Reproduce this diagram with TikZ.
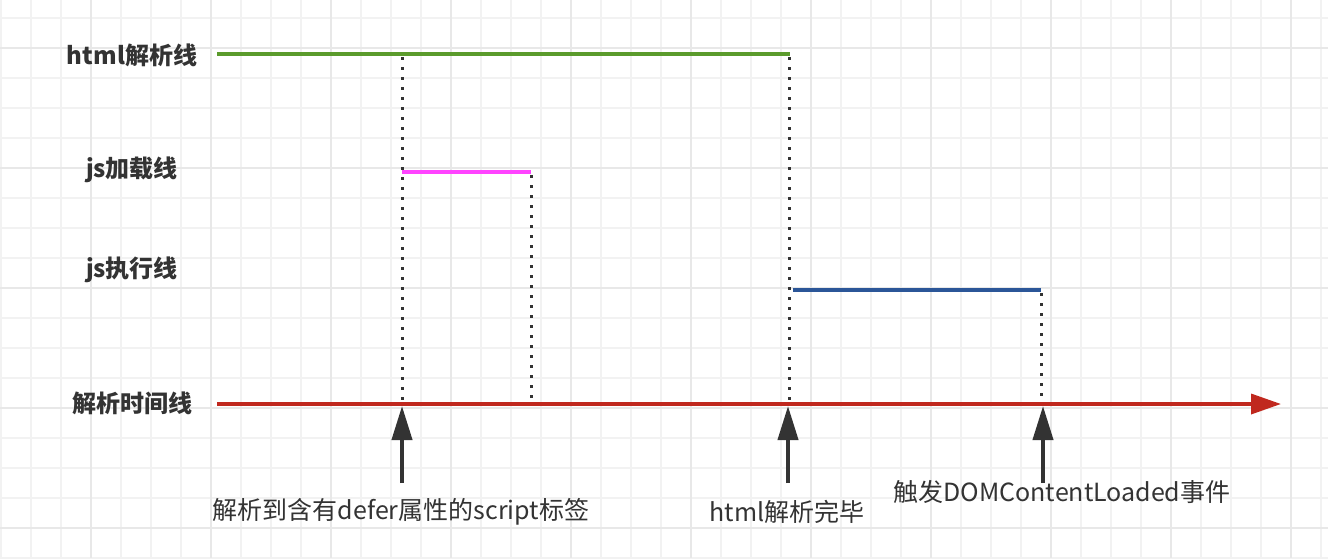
\documentclass[tikz,border=0pt]{standalone}
\usepackage{fontspec}
\setmainfont{Noto Sans CJK SC}
\usetikzlibrary{arrows.meta, positioning}

\definecolor{grille}{HTML}{F2F2F2}
\definecolor{grillefort}{HTML}{E8E8E8}
\definecolor{fonce}{HTML}{333333}
\definecolor{vert}{HTML}{5B9B2C}
\definecolor{magenta}{HTML}{FF44FF}
\definecolor{bleu}{HTML}{2B5698}
\definecolor{rouge}{HTML}{C0281E}

\begin{document}
\begin{tikzpicture}[
  x=1pt, y=-1pt,
  font=\fontsize{25}{29}\selectfont,
  titre/.style={
    font=\fontsize{24}{28}\selectfont\bfseries,
    text=fonce,
    anchor=center
  },
  legende/.style={
    text=fonce,
    anchor=center
  },
  ligne/.style={
    line width=3.5pt
  },
  pointille/.style={
    draw=fonce,
    line width=3pt,
    dash pattern=on 3pt off 7pt
  },
  fleche/.style={
    -{Triangle[length=34pt, width=20pt]},
    line width=4pt,
    draw=fonce
  }
]
  \useasboundingbox (0,0) rectangle (1328,558);
  \fill[white] (0,0) rectangle (1328,558);

  % Grille de fond
  \foreach \gx in {1,31,...,1321} {
    \draw[grille, line width=1.5pt] (\gx,0) -- (\gx,558);
  }
  \foreach \gy in {18,48,...,558} {
    \draw[grille, line width=1.5pt] (0,\gy) -- (1328,\gy);
  }
  \foreach \gx in {91,211,...,1291} {
    \draw[grillefort, line width=1.5pt] (\gx,0) -- (\gx,558);
  }
  \foreach \gy in {48,168,...,528} {
    \draw[grillefort, line width=1.5pt] (0,\gy) -- (1328,\gy);
  }

  % Titres des lignes
  \node[titre] (t1) at (132,55) {html解析线};
  \node[titre] (t2) at (132,170) {js加载线};
  \node[titre] (t3) at (132,270) {js执行线};
  \node[titre] (t4) at (132,403) {解析时间线};

  % Extrémités des lignes
  \coordinate (h0) at (217,54);
  \coordinate (h1) at (790,54);
  \coordinate (j0) at (402,172);
  \coordinate (j1) at (531,172);
  \coordinate (e0) at (793,290);
  \coordinate (e1) at (1041,290);
  \coordinate (a0) at (217,404);
  \coordinate (a1) at (1281,404);

  % Pieds sur l'axe
  \coordinate (p1) at (402,404);
  \coordinate (p2) at (531,404);
  \coordinate (p3) at (789,404);
  \coordinate (p4) at (1041,404);

  % Pointillés verticaux
  \draw[pointille] (402,57) -- (p1);
  \draw[pointille] (j1) ++(0,3) -- (p2);
  \draw[pointille] (789,57) -- (p3);
  \draw[pointille] (e1) ++(0,3) -- (p4);

  % Lignes horizontales
  \draw[ligne, vert] (h0) -- (h1);
  \draw[ligne, magenta] (j0) -- (j1);
  \draw[ligne, bleu] (e0) -- (e1);
  \draw[ligne, rouge, -{Triangle[length=30pt, width=20pt]}] (a0) -- (a1);

  % Légendes du bas
  \node[legende] (l1) at (401,512) {解析到含有defer属性的script标签};
  \node[legende] (l2) at (787,512) {html解析完毕};
  \node[legende] (l3) at (1062,492) {触发DOMContentLoaded事件};

  % Flèches vers l'axe
  \coordinate (f1) at (402,483);
  \coordinate (f2) at (788,483);
  \coordinate (f3) at (1043,483);
  \draw[fleche] (f1) -- (402,406);
  \draw[fleche] (f2) -- (788,406);
  \draw[fleche] (f3) -- (1043,406);
\end{tikzpicture}
\end{document}
